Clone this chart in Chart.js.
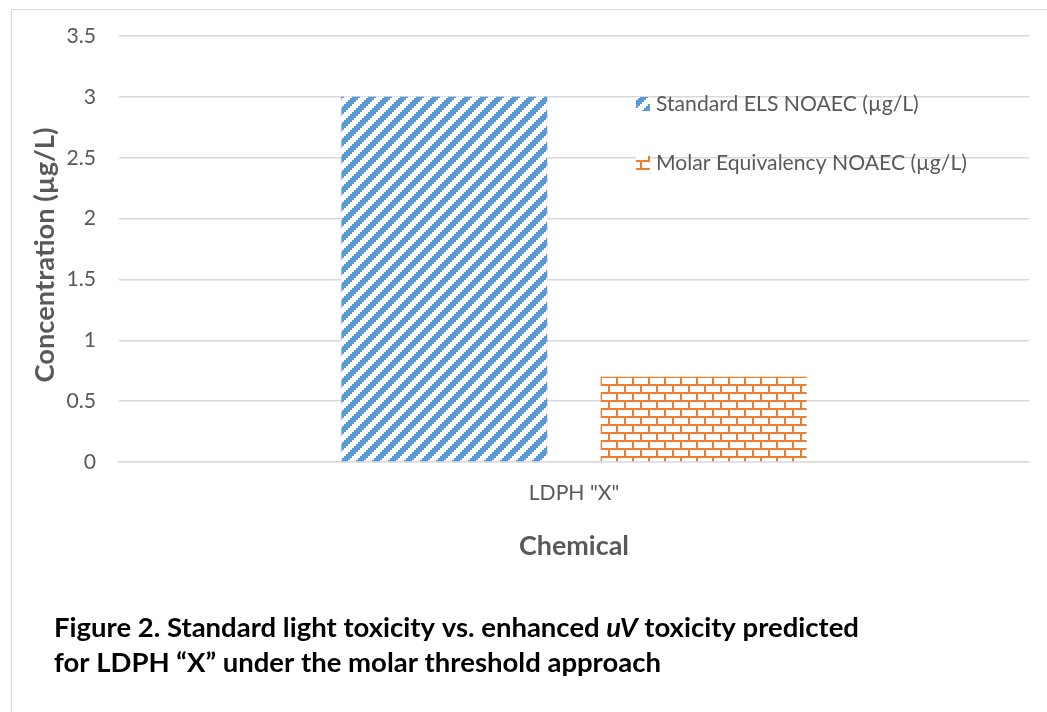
<!DOCTYPE html>
<html><head><meta charset="utf-8">
<script src="https://cdn.jsdelivr.net/npm/chart.js@4.4.0/dist/chart.umd.min.js"></script>
<style>html,body{margin:0;padding:0;background:#fff;overflow:hidden}#wrap{position:relative;width:1047px;height:712px}</style>
</head><body><div id="wrap"><canvas id="c" width="1047" height="712"></canvas></div>
<script>
// ---- data ----
const categories = ['LDPH "X"'];
const seriesNames = ['Standard ELS NOAEC (µg/L)', 'Molar Equivalency NOAEC (µg/L)'];
const standardElsValues = [3];
const molarEquivalencyValues = [0.7];
const yTickValues = [0, 0.5, 1, 1.5, 2, 2.5, 3, 3.5];
const yAxisTitle = 'Concentration (µg/L)';
const xAxisTitle = 'Chemical';
const captionLine1 = [['Figure 2. Standard light toxicity vs. enhanced ', false], ['uV', true], [' toxicity predicted', false]];
const captionLine2 = [['for LDPH \u201CX\u201D under the molar threshold approach', false]];

// ---- styling ----
const FAMILY = 'Lato, Carlito, Calibri, "Open Sans", sans-serif';
const TEXT = '#595959';
const GRID = '#D9D9D9';
const BLUE = '#5B9BD5';
const ORANGE = '#ED7D31';

const mctx = document.createElement('canvas').getContext('2d');
function fit(text, weight, target, style) {
  mctx.font = `${style || 'normal'} ${weight} 100px ${FAMILY}`;
  return 100 * target / mctx.measureText(text).width;
}
const labelSize = fit(seriesNames[0], 'normal', 263);
const xTitleSize = fit(xAxisTitle, 'bold', 110);
const yTitleSize = fit(yAxisTitle, 'bold', 255);
let capW = 0;
captionLine1.forEach(([t, it]) => { mctx.font = `${it ? 'italic' : 'normal'} bold 100px ${FAMILY}`; capW += mctx.measureText(t).width; });
const captionSize = 100 * 805 / capW;

const canvas = document.getElementById('c');
const ctx = canvas.getContext('2d');

function stripeTile(color) {
  const c = document.createElement('canvas'); c.width = c.height = 16;
  const g = c.getContext('2d');
  g.fillStyle = '#fff'; g.fillRect(0, 0, 16, 16);
  g.fillStyle = color;
  for (let by = 0; by < 8; by++) for (let bx = 0; bx < 8; bx++)
    if (((bx + by) % 8) < 4) g.fillRect(bx * 2, by * 2, 2, 2);
  return c;
}
function brickTile(color) {
  const c = document.createElement('canvas'); c.width = c.height = 16;
  const g = c.getContext('2d');
  g.fillStyle = '#fff'; g.fillRect(0, 0, 16, 16);
  g.fillStyle = color;
  g.fillRect(0, 0, 16, 2); g.fillRect(0, 8, 16, 2);
  g.fillRect(0, 2, 2, 6); g.fillRect(8, 10, 2, 6);
  return c;
}
const stripePat = ctx.createPattern(stripeTile(BLUE), 'repeat');
const brickPat = ctx.createPattern(brickTile(ORANGE), 'repeat');

const framePlugin = {
  id: 'frame',
  beforeDraw(chart) {
    const c = chart.ctx; c.save();
    c.fillStyle = '#fff'; c.fillRect(0, 0, chart.width, chart.height);
    c.strokeStyle = GRID; c.lineWidth = 1;
    c.beginPath(); c.moveTo(11.5, chart.height); c.lineTo(11.5, 9.5); c.lineTo(chart.width, 9.5); c.stroke();
    c.restore();
  }
};
const yTitlePlugin = {
  id: 'yTitle',
  afterDraw(chart) {
    const c = chart.ctx; c.save();
    c.translate(45.5, 255); c.rotate(-Math.PI / 2);
    c.fillStyle = TEXT; c.font = `normal bold ${yTitleSize}px ${FAMILY}`;
    c.textAlign = 'center'; c.textBaseline = 'middle';
    c.fillText(yAxisTitle, 0, 0);
    c.restore();
  }
};
const legendPlugin = {
  id: 'insideLegend',
  afterDraw(chart) {
    const c = chart.ctx; c.save();
    const rows = [104, 163];
    chart.data.datasets.forEach((ds, i) => {
      const y = rows[i];
      c.fillStyle = ds.backgroundColor;
      c.fillRect(636, y - 7, 14, 14);
      c.fillStyle = TEXT;
      c.font = `normal ${labelSize}px ${FAMILY}`;
      c.textBaseline = 'middle'; c.textAlign = 'left';
      c.fillText(ds.label, 656, y);
    });
    c.restore();
  }
};
const captionPlugin = {
  id: 'caption',
  afterDraw(chart) {
    const c = chart.ctx; c.save();
    c.fillStyle = '#000'; c.textBaseline = 'alphabetic'; c.textAlign = 'left';
    [[captionLine1, 637], [captionLine2, 672]].forEach(([parts, y]) => {
      let x = 54;
      parts.forEach(([t, it]) => {
        c.font = `${it ? 'italic' : 'normal'} bold ${captionSize}px ${FAMILY}`;
        c.fillText(t, x, y);
        x += c.measureText(t).width;
      });
    });
    c.restore();
  }
};

new Chart(ctx, {
  type: 'bar',
  data: {
    labels: categories,
    datasets: [
      { label: seriesNames[0], data: standardElsValues, backgroundColor: stripePat, borderWidth: 0, categoryPercentage: 0.57, barPercentage: 0.794 },
      { label: seriesNames[1], data: molarEquivalencyValues, backgroundColor: brickPat, borderWidth: 0, categoryPercentage: 0.57, barPercentage: 0.794 }
    ]
  },
  plugins: [framePlugin, yTitlePlugin, legendPlugin, captionPlugin],
  options: {
    responsive: false, animation: false, devicePixelRatio: 1,
    layout: { padding: { left: 0, right: 18, top: 36, bottom: 140 } },
    plugins: { legend: { display: false }, tooltip: { enabled: false } },
    scales: {
      x: {
        grid: { display: false, drawTicks: false },
        border: { display: true, color: GRID, width: 1.5 },
        ticks: { color: TEXT, font: { family: FAMILY, size: labelSize }, padding: 18 },
        title: { display: true, text: xAxisTitle, color: TEXT, font: { family: FAMILY, size: xTitleSize, weight: 'bold' }, padding: { top: 0, bottom: 10 } },
        afterFit(s) { s.height = 110; }
      },
      y: {
        min: 0, max: 3.5,
        afterBuildTicks(s) { s.ticks = yTickValues.map(v => ({ value: v })); },
        grid: { color: GRID, lineWidth: 1.5, drawTicks: false },
        border: { display: false },
        ticks: { color: TEXT, font: { family: FAMILY, size: labelSize }, padding: 23, callback: v => String(v) },
        title: { display: false },
        afterFit(s) { s.width = 119; }
      }
    }
  }
});
</script></body></html>
